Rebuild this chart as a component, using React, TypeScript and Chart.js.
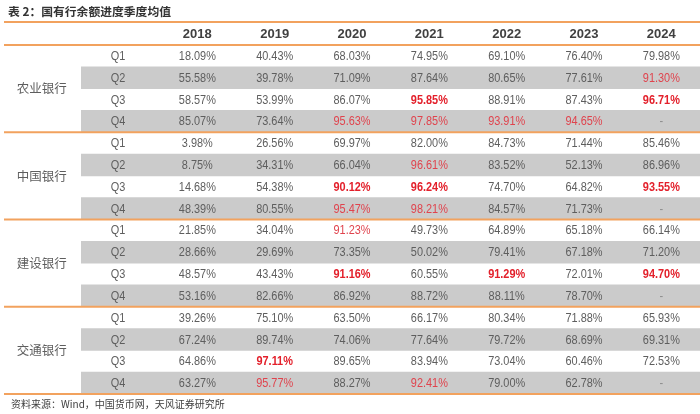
import React, { useEffect, useRef } from "react";
import { Chart, registerables } from "chart.js";

Chart.register(...registerables);

const TITLE = "表 2：国有行余额进度季度均值";
const SOURCE = "资料来源：Wind，中国货币网，天风证券研究所";
const years = ["2018", "2019", "2020", "2021", "2022", "2023", "2024"];
const banks = ["农业银行", "中国银行", "建设银行", "交通银行"];
const quarters = ["Q1", "Q2", "Q3", "Q4"];

const abc = [
  [18.09, 40.43, 68.03, 74.95, 69.1, 76.4, 79.98],
  [55.58, 39.78, 71.09, 87.64, 80.65, 77.61, 91.3],
  [58.57, 53.99, 86.07, 95.85, 88.91, 87.43, 96.71],
  [85.07, 73.64, 95.63, 97.85, 93.91, 94.65, null],
];
const boc = [
  [3.98, 26.56, 69.97, 82.0, 84.73, 71.44, 85.46],
  [8.75, 34.31, 66.04, 96.61, 83.52, 52.13, 86.96],
  [14.68, 54.38, 90.12, 96.24, 74.7, 64.82, 93.55],
  [48.39, 80.55, 95.47, 98.21, 84.57, 71.73, null],
];
const ccb = [
  [21.85, 34.04, 91.23, 49.73, 64.89, 65.18, 66.14],
  [28.66, 29.69, 73.35, 50.02, 79.41, 67.18, 71.2],
  [48.57, 43.43, 91.16, 60.55, 91.29, 72.01, 94.7],
  [53.16, 82.66, 86.92, 88.72, 88.11, 78.7, null],
];
const bocom = [
  [39.26, 75.1, 63.5, 66.17, 80.34, 71.88, 65.93],
  [67.24, 89.74, 74.06, 77.64, 79.72, 68.69, 69.31],
  [64.86, 97.11, 89.65, 83.94, 73.04, 60.46, 72.53],
  [63.27, 95.77, 88.27, 92.41, 79.0, 62.78, null],
];
const bankValues = [abc, boc, ccb, bocom];
const HIGHLIGHT_ABOVE = 90;

const ORANGE = "#F2A25E";
const GRAY_BAND = "#CBCBCB";
const TEXT = "#5E5E5E";
const SANS = '"Liberation Sans", Arial, sans-serif';
const CJK = '"Noto Sans CJK SC", "Noto Sans", sans-serif';
const NARROW_X = 0.84;

const rowLabels: string[] = [];
const bandData: ([number, number] | null)[] = [];
banks.forEach((b) =>
  quarters.forEach((q, qi) => {
    rowLabels.push(b + " " + q);
    bandData.push(qi % 2 === 1 ? [1, 9] : null);
  })
);

function narrowText(ctx: CanvasRenderingContext2D, text: string, x: number, y: number) {
  ctx.save();
  ctx.translate(x, y);
  ctx.scale(NARROW_X, 1);
  ctx.fillText(text, 0, 0);
  ctx.restore();
}

const tablePlugin = {
  id: "tableText",
  afterDatasetsDraw(chart: any) {
    const { ctx, chartArea, scales } = chart;
    const xs = scales.x;
    const ys = scales.y;
    const top = chartArea.top;
    const rowH = (chartArea.bottom - chartArea.top) / rowLabels.length;
    ctx.save();

    // title
    ctx.fillStyle = "#333333";
    ctx.font = `bold 11.8px ${CJK}`;
    ctx.textAlign = "left";
    ctx.textBaseline = "middle";
    ctx.fillText(TITLE, 8, 12);

    // source
    ctx.font = `10px ${CJK}`;
    ctx.fillStyle = "#404040";
    ctx.fillText(SOURCE, 11, chartArea.bottom + 10);

    // lines
    ctx.strokeStyle = ORANGE;
    ctx.lineWidth = 2;
    const lineYs = [top - 23, top];
    for (let g = 1; g <= banks.length; g++) lineYs.push(top + g * 4 * rowH);
    lineYs.forEach((ly) => {
      ctx.beginPath();
      ctx.moveTo(chartArea.left, ly);
      ctx.lineTo(chartArea.right, ly);
      ctx.stroke();
    });

    // header
    ctx.textAlign = "center";
    ctx.fillStyle = "#404040";
    ctx.font = `bold 13px ${SANS}`;
    years.forEach((yr, i) => {
      ctx.fillText(yr, xs.getPixelForValue(2.5 + i), top - 11);
    });

    // bank labels
    ctx.font = `12.5px ${CJK}`;
    ctx.fillStyle = TEXT;
    banks.forEach((b, g) => {
      ctx.fillText(b, xs.getPixelForValue(0.5) - 1, top + (g * 4 + 2) * rowH);
    });

    // quarter labels and values
    banks.forEach((b, g) => {
      quarters.forEach((q, qi) => {
        const r = g * 4 + qi;
        const py = ys.getPixelForValue(r) + 0.5;
        ctx.font = `13px ${SANS}`;
        ctx.fillStyle = TEXT;
        narrowText(ctx, q, xs.getPixelForValue(1.5) - 2, py);
        bankValues[g][qi].forEach((v, i) => {
          const px = xs.getPixelForValue(2.5 + i);
          if (v === null) {
            ctx.font = `13px ${SANS}`;
            ctx.fillStyle = "#8C8C8C";
            narrowText(ctx, "-", px, py);
            return;
          }
          const hi = v > HIGHLIGHT_ABOVE;
          const bold = hi && q === "Q3";
          ctx.font = `${bold ? "bold " : ""}13px ${SANS}`;
          ctx.fillStyle = hi ? (bold ? "#E3202B" : "#E0434D") : TEXT;
          narrowText(ctx, v.toFixed(2) + "%", px, py);
        });
      });
    });
    ctx.restore();
  },
};

export default function App() {
  const ref = useRef<HTMLCanvasElement>(null);
  useEffect(() => {
    if (!ref.current) return;
    const chart = new Chart(ref.current, {
      type: "bar",
      data: {
        labels: rowLabels,
        datasets: [
          {
            data: bandData as any,
            backgroundColor: GRAY_BAND,
            borderWidth: 0,
            barPercentage: 1,
            categoryPercentage: 1,
          },
        ],
      },
      options: {
        indexAxis: "y",
        responsive: false,
        animation: false,
        events: [],
        layout: { padding: { left: 4, right: 0, top: 45, bottom: 20 } },
        scales: {
          x: { type: "linear", min: 0, max: 9, display: false },
          y: { type: "category", display: false, offset: true },
        },
        plugins: { legend: { display: false }, tooltip: { enabled: false }, title: { display: false } },
      },
      plugins: [tablePlugin],
    });
    return () => chart.destroy();
  }, []);
  return (
    <div style={{ position: "fixed", left: 0, top: 0, width: 700, height: 414, background: "#fff" }}>
      <canvas ref={ref} width={700} height={414} style={{ width: 700, height: 414 }} />
    </div>
  );
}
